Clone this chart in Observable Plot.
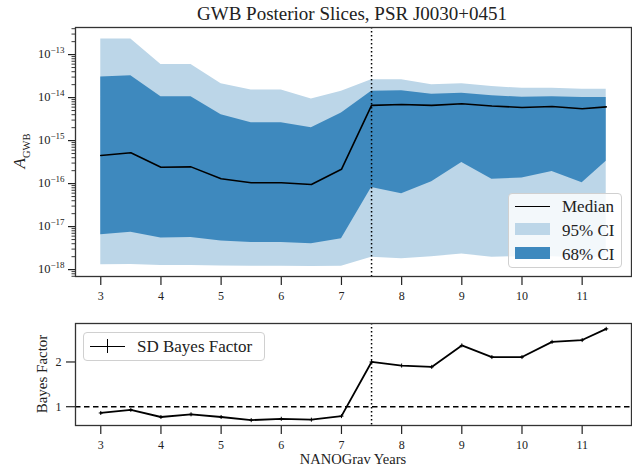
<!DOCTYPE html>
<html><head><meta charset="utf-8">
<script src="https://cdn.jsdelivr.net/npm/d3@7"></script>
<script src="https://cdn.jsdelivr.net/npm/@observablehq/plot@0.6"></script>
<style>
body{margin:0;background:#fff;font-family:"Liberation Serif",serif;color:#222;}
#wrap{position:relative;width:632px;height:466px;overflow:hidden;}
#top,#bot{position:absolute;left:0;}
#top{top:0} #bot{top:310px}
.item{position:absolute;font-size:17px;line-height:17px;}
</style></head><body>
<div id="wrap">
  <div id="top"></div>
  <div id="bot"></div>
</div>
<script>
const years  = [3,3.5,4,4.5,5,5.5,6,6.5,7,7.5,8,8.5,9,9.5,10,10.5,11,11.4];
const median = [4.5e-16,5.2e-16,2.4e-16,2.45e-16,1.3e-16,1.05e-16,1.05e-16,9.5e-17,2.15e-16,6.6e-15,6.9e-15,6.6e-15,7.2e-15,6.4e-15,5.9e-15,6.2e-15,5.5e-15,6.1e-15];
const hi68   = [3.0e-14,3.2e-14,1.04e-14,1.05e-14,4.0e-15,2.6e-15,2.6e-15,2.0e-15,4.4e-15,1.4e-14,1.45e-14,1.2e-14,1.26e-14,1.1e-14,1.02e-14,1.05e-14,1.0e-14,1.0e-14];
const lo68   = [6.5e-18,7.4e-18,5.4e-18,5.6e-18,4.6e-18,4.3e-18,4.3e-18,4.0e-18,5.2e-18,8.1e-17,5.8e-17,1.1e-16,3.1e-16,1.26e-16,1.35e-16,1.9e-16,1.05e-16,3.3e-16];
const hi95   = [2.3e-13,2.3e-13,5.9e-14,5.9e-14,2.1e-14,1.5e-14,1.5e-14,9.3e-15,1.4e-14,2.6e-14,2.6e-14,2.0e-14,2.1e-14,1.8e-14,1.65e-14,1.65e-14,1.56e-14,1.56e-14];
const lo95   = [1.3e-18,1.32e-18,1.25e-18,1.25e-18,1.22e-18,1.2e-18,1.2e-18,1.18e-18,1.2e-18,1.95e-18,1.8e-18,2.0e-18,2.3e-18,1.95e-18,2.0e-18,2.0e-18,1.9e-18,2.0e-18];
const bayes  = [0.86,0.93,0.77,0.83,0.77,0.70,0.73,0.71,0.79,2.0,1.92,1.89,2.37,2.11,2.11,2.45,2.49,2.74];
const xTicks = [3,4,5,6,7,8,9,10,11];
const yTicks = [1e-18,1e-17,1e-16,1e-15,1e-14,1e-13];
const yTickExps = ["−18","−17","−16","−15","−14","−13"];
const bfTicks = [1,2];
const splitYear = 7.5;
const title = "GWB Posterior Slices, PSR J0030+0451";
const legendTop = ["Median","95% CI","68% CI"];
const legendBot = "SD Bayes Factor";

const col95 = "#bcd6e8", col68 = "#3e89be";
const FONT = "Liberation Serif";

const rows = years.map((x,i)=>({x, med:median[i], lo68:lo68[i], hi68:hi68[i], lo95:lo95[i], hi95:hi95[i], bf:bayes[i]}));
const minor = [];
for (let e=-19; e<=-12; e++) for (let m=2; m<=9; m++) minor.push(m*10**e);
const yLab = new Map(yTicks.map((t,i)=>[t, "10^" + yTickExps[i]]));
const xDomain = [2.58, 11.82];
const yLo = 10**-18.16, yHi = 10**-12.37;

const topPlot = Plot.plot({
  width:632, height:310, marginLeft:75, marginRight:1, marginTop:27, marginBottom:34,
  style:{fontFamily:FONT, fontSize:"12px", color:"#222", background:"transparent"},
  x:{domain:xDomain},
  y:{type:"log", domain:[yLo, yHi]},
  marks:[
    Plot.areaY(rows,{x:"x", y1:"lo95", y2:"hi95", fill:col95}),
    Plot.areaY(rows,{x:"x", y1:"lo68", y2:"hi68", fill:col68}),
    Plot.lineY(rows,{x:"x", y:"med", stroke:"black", strokeWidth:1.6}),
    Plot.ruleX([splitYear],{stroke:"black", strokeWidth:1.5, strokeDasharray:"1.5,2.5"}),
    Plot.axisX({ticks:xTicks, tickSize:9, tickPadding:6, strokeWidth:1.2, tickFormat:d=>String(d), label:null}),
    Plot.axisY({ticks:yTicks, tickSize:7, tickPadding:4, strokeWidth:1.2, tickFormat:d=>yLab.get(d), label:null}),
    Plot.axisY({ticks:minor.filter(v=>v>yLo && v<yHi), tickSize:3.5, strokeWidth:0.9, tickFormat:()=>"", label:null}),
    Plot.frame({stroke:"#333", strokeWidth:1.3})
  ]
});
// turn "10^−13" into 10 with a superscript exponent
topPlot.querySelectorAll('g[aria-label="y-axis tick label"] text').forEach(t=>{
  const s = t.textContent;
  if (!s.includes("^")) return;
  const [b, e] = s.split("^");
  t.textContent = "";
  const ns = "http://www.w3.org/2000/svg";
  const t1 = document.createElementNS(ns,"tspan"); t1.textContent = b; t1.setAttribute("font-size","12.5");
  const t2 = document.createElementNS(ns,"tspan"); t2.textContent = e; t2.setAttribute("font-size","9"); t2.setAttribute("dy","-5");
  t.appendChild(t1); t.appendChild(t2);
});
document.getElementById("top").appendChild(topPlot);

const botPlot = Plot.plot({
  width:632, height:156, marginLeft:75, marginRight:1, marginTop:13, marginBottom:41,
  style:{fontFamily:FONT, fontSize:"12px", color:"#222", background:"transparent"},
  x:{domain:xDomain},
  y:{domain:[0.58, 2.86]},
  marks:[
    Plot.ruleY([1],{stroke:"black", strokeWidth:1.5, strokeDasharray:"5.5,3.5"}),
    Plot.ruleX([splitYear],{stroke:"black", strokeWidth:1.5, strokeDasharray:"1.5,2.5"}),
    Plot.lineY(rows,{x:"x", y:"bf", stroke:"black", strokeWidth:1.8}),
    Plot.dot(rows,{x:"x", y:"bf", symbol:"plus", r:1.4, stroke:"black", strokeWidth:1}),
    Plot.axisX({ticks:xTicks, tickSize:9, tickPadding:6, strokeWidth:1.2, tickFormat:d=>String(d), label:null}),
    Plot.axisY({ticks:bfTicks, tickSize:9, tickPadding:5, strokeWidth:1.2, tickFormat:d=>String(d), label:null}),
    Plot.frame({stroke:"#333", strokeWidth:1.3})
  ]
});
document.getElementById("bot").appendChild(botPlot);

// Titles / labels / legends (HTML overlays)
const wrap = document.getElementById("wrap");
function add(html, css){ const d=document.createElement("div"); d.innerHTML=html; d.style.cssText=css; wrap.appendChild(d); return d; }
add(title, "position:absolute;left:352px;top:14px;transform:translate(-50%,-50%);font-size:19px;white-space:nowrap;");
add("<i>A</i><sub style='font-size:10.5px'>GWB</sub>", "position:absolute;left:21px;top:151px;transform:translate(-50%,-50%) rotate(-90deg);font-size:17px;white-space:nowrap;");
add("Bayes Factor", "position:absolute;left:42px;top:374px;transform:translate(-50%,-50%) rotate(-90deg);font-size:15px;white-space:nowrap;");
add("NANOGrav Years", "position:absolute;left:353px;top:459px;transform:translate(-50%,-50%);font-size:14.5px;white-space:nowrap;");

// top legend
add(`<div style="position:absolute;left:6px;top:12px;width:35px;height:0;border-top:1.7px solid black"></div>
<div class="item" style="left:53px;top:4px">${legendTop[0]}</div>
<div style="position:absolute;left:6px;top:29px;width:35px;height:12px;background:${col95}"></div>
<div class="item" style="left:53px;top:28px">${legendTop[1]}</div>
<div style="position:absolute;left:6px;top:53px;width:35px;height:12px;background:${col68}"></div>
<div class="item" style="left:53px;top:52px">${legendTop[2]}</div>`,
"position:absolute;left:508px;top:193px;width:114px;height:75px;background:rgba(255,255,255,0.82);border:1px solid #d0d0d0;border-radius:4px;box-sizing:border-box;");

// bottom legend
add(`<div style="position:absolute;left:6px;top:13px;width:35px;height:0;border-top:1.8px solid black"></div>
<div style="position:absolute;left:23px;top:6px;width:0;height:14px;border-left:1.3px solid black"></div>
<div class="item" style="left:53px;top:5px">${legendBot}</div>`,
"position:absolute;left:83px;top:332px;width:182px;height:29px;background:rgba(255,255,255,0.82);border:1px solid #d0d0d0;border-radius:4px;box-sizing:border-box;");
</script>
</body></html>
